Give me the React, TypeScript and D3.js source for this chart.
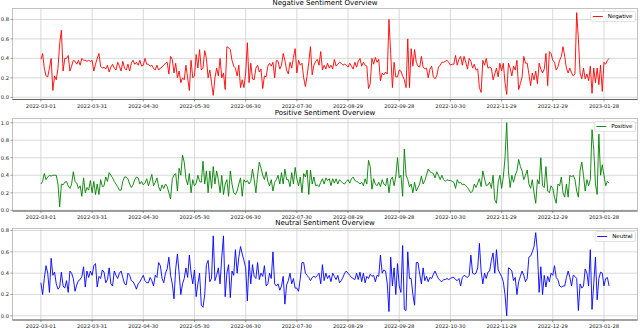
import * as d3 from 'd3';

// tick labels every 30 observations
const tickLabels = [
  '2022-03-01', '2022-03-31', '2022-04-30', '2022-05-30', '2022-06-30', '2022-07-30',
  '2022-08-29', '2022-09-28', '2022-10-30', '2022-11-29', '2022-12-29', '2023-01-28'
];
const tickStep = 30;

const negative = [
  0.39, 0.45, 0.30, 0.22, 0.21, 0.30, 0.40, 0.07, 0.22, 0.18,
  0.30, 0.55, 0.69, 0.27, 0.40, 0.40, 0.43, 0.27, 0.32, 0.38,
  0.37, 0.34, 0.38, 0.33, 0.40, 0.38, 0.38, 0.37, 0.38, 0.37,
  0.38, 0.27, 0.34, 0.40, 0.45, 0.32, 0.30, 0.31, 0.29, 0.33,
  0.26, 0.31, 0.34, 0.30, 0.28, 0.36, 0.32, 0.27, 0.37, 0.30,
  0.28, 0.34, 0.27, 0.35, 0.38, 0.34, 0.36, 0.33, 0.38, 0.32,
  0.33, 0.40, 0.34, 0.34, 0.32, 0.33, 0.30, 0.28, 0.33, 0.28,
  0.30, 0.31, 0.33, 0.35, 0.36, 0.24, 0.42, 0.39, 0.25, 0.35,
  0.20, 0.27, 0.15, 0.20, 0.18, 0.33, 0.20, 0.07, 0.38, 0.20,
  0.22, 0.44, 0.30, 0.49, 0.28, 0.30, 0.48, 0.40, 0.20, 0.28,
  0.15, 0.02, 0.20, 0.30, 0.22, 0.40, 0.20, 0.25, 0.08, 0.52,
  0.51, 0.49, 0.38, 0.32, 0.30, 0.22, 0.33, 0.10, 0.18, 0.10,
  0.25, 0.56, 0.15, 0.35, 0.19, 0.18, 0.30, 0.33, 0.26, 0.29,
  0.09, 0.22, 0.21, 0.32, 0.35, 0.32, 0.36, 0.20, 0.38, 0.37,
  0.29, 0.33, 0.45, 0.38, 0.28, 0.24, 0.36, 0.30, 0.41, 0.50,
  0.25, 0.38, 0.33, 0.35, 0.20, 0.11, 0.22, 0.36, 0.52, 0.23,
  0.33, 0.37, 0.39, 0.33,
  0.47, 0.28, 0.33, 0.29, 0.35, 0.30, 0.33, 0.29, 0.39, 0.32,
  0.34, 0.36, 0.35, 0.33, 0.34, 0.33, 0.31, 0.35, 0.32,
  0.29, 0.36, 0.31, 0.37, 0.40, 0.32, 0.36, 0.33, 0.32, 0.09,
  0.14, 0.40, 0.34, 0.41, 0.36, 0.39, 0.17, 0.25, 0.23, 0.26,
  0.24, 0.80, 0.45, 0.10, 0.36, 0.21, 0.21, 0.28, 0.27,
  0.22, 0.18, 0.10, 0.60, 0.10, 0.50, 0.32, 0.49, 0.36, 0.32,
  0.31, 0.42, 0.31, 0.29, 0.30, 0.20, 0.29, 0.32, 0.21, 0.19,
  0.22, 0.31, 0.33, 0.36, 0.36, 0.37, 0.38, 0.36, 0.33, 0.34,
  0.34, 0.43, 0.33, 0.39, 0.42, 0.33, 0.42, 0.36, 0.29,
  0.40, 0.37, 0.30, 0.34, 0.28, 0.29, 0.10, 0.05, 0.38, 0.33,
  0.40, 0.30, 0.31, 0.30, 0.18, 0.24, 0.30, 0.21, 0.35, 0.27,
  0.35, 0.15, 0.03, 0.35, 0.30, 0.22, 0.32, 0.28, 0.38,
  0.08, 0.14, 0.21, 0.42, 0.35, 0.35, 0.24, 0.12, 0.25, 0.18,
  0.27, 0.14, 0.35, 0.29, 0.25, 0.29, 0.45, 0.12, 0.47, 0.45,
  0.38, 0.36, 0.28, 0.31, 0.38, 0.42, 0.52, 0.42, 0.30,
  0.25, 0.30, 0.25, 0.22, 0.24, 0.87, 0.60, 0.25, 0.19, 0.30,
  0.19, 0.24, 0.17, 0.32, 0.04, 0.30, 0.15, 0.30, 0.13, 0.33,
  0.06, 0.36, 0.34, 0.38, 0.40
];

const positive = [
  0.30, 0.33, 0.42, 0.35, 0.38, 0.40, 0.39, 0.40, 0.40, 0.40,
  0.30, 0.04, 0.30, 0.29, 0.32, 0.33, 0.28, 0.25, 0.30,
  0.44, 0.33, 0.31, 0.25, 0.28, 0.16, 0.37, 0.20, 0.26, 0.23,
  0.34, 0.20, 0.33, 0.18, 0.30, 0.18, 0.35, 0.27, 0.28, 0.38,
  0.33, 0.43, 0.40, 0.37, 0.33, 0.30, 0.27, 0.23, 0.23, 0.33,
  0.38, 0.38, 0.36, 0.30, 0.26, 0.29, 0.35, 0.38, 0.37, 0.30,
  0.33, 0.29, 0.31, 0.36, 0.28, 0.34, 0.41, 0.28, 0.32,
  0.37, 0.27, 0.22, 0.29, 0.25, 0.30, 0.27, 0.20, 0.13, 0.36,
  0.40, 0.42, 0.22, 0.48, 0.40, 0.63, 0.55, 0.36, 0.29, 0.42,
  0.20, 0.35, 0.28, 0.31, 0.40, 0.33, 0.32, 0.56, 0.30, 0.45,
  0.20, 0.45, 0.25, 0.50, 0.30, 0.45, 0.35, 0.20, 0.40,
  0.18, 0.30, 0.35, 0.16, 0.45, 0.30, 0.20, 0.18, 0.22, 0.30,
  0.37, 0.16, 0.35, 0.32, 0.34, 0.30, 0.33, 0.47, 0.35, 0.20,
  0.40, 0.55, 0.48, 0.40, 0.35, 0.44, 0.33, 0.28, 0.35, 0.22,
  0.32, 0.35, 0.40, 0.30, 0.43, 0.30, 0.47, 0.35, 0.35,
  0.27, 0.43, 0.30, 0.49, 0.36, 0.28, 0.38, 0.20, 0.42, 0.38,
  0.46, 0.18, 0.46, 0.30, 0.38, 0.28, 0.29, 0.27,
  0.32, 0.36, 0.30, 0.37, 0.34, 0.36, 0.28, 0.36, 0.31, 0.36,
  0.30, 0.35, 0.33, 0.31, 0.30, 0.33, 0.35, 0.31, 0.36,
  0.38, 0.34, 0.33, 0.32, 0.30, 0.32, 0.28, 0.36, 0.30, 0.57,
  0.50, 0.24, 0.36, 0.30, 0.28, 0.32, 0.27, 0.35, 0.30, 0.28,
  0.37, 0.20, 0.35, 0.38, 0.28, 0.39, 0.60, 0.37, 0.40,
  0.16, 0.70, 0.40, 0.35, 0.27, 0.30, 0.20, 0.32, 0.22, 0.26,
  0.30, 0.39, 0.30, 0.34, 0.40, 0.47, 0.44, 0.43, 0.42, 0.37,
  0.44, 0.40, 0.35, 0.40, 0.35, 0.33, 0.35, 0.34, 0.34, 0.33,
  0.32, 0.25, 0.35, 0.31, 0.32, 0.29, 0.30, 0.28, 0.26,
  0.23, 0.20, 0.22, 0.30, 0.26, 0.31, 0.36, 0.27, 0.45, 0.36,
  0.28, 0.29, 0.32, 0.25, 0.40, 0.12, 0.08, 0.32, 0.40, 0.25,
  0.38, 0.60, 1.00, 0.45, 0.26, 0.40, 0.32, 0.40, 0.45,
  0.58, 0.50, 0.45, 0.35, 0.40, 0.46, 0.30, 0.25, 0.35, 0.20,
  0.08, 0.35, 0.30, 0.60, 0.28, 0.26, 0.50, 0.22, 0.20, 0.28,
  0.25, 0.15, 0.08, 0.30, 0.28, 0.38, 0.20, 0.15, 0.30,
  0.15, 0.40, 0.38, 0.40, 0.35, 0.22, 0.15, 0.45, 0.55, 0.40,
  0.22, 0.35, 0.28, 0.35, 0.92, 0.70, 0.30, 0.18, 0.87, 0.40,
  0.52, 0.40, 0.28, 0.33, 0.31
];

const neutral = [
  0.31, 0.20, 0.35, 0.47, 0.40, 0.22, 0.54, 0.38, 0.41, 0.30,
  0.25, 0.27, 0.41, 0.28, 0.26, 0.33, 0.22, 0.42, 0.40, 0.35,
  0.23, 0.29, 0.33, 0.34, 0.37, 0.46, 0.27, 0.42, 0.36,
  0.42, 0.38, 0.47, 0.49, 0.27, 0.37, 0.35, 0.43, 0.41, 0.31,
  0.34, 0.45, 0.30, 0.28, 0.42, 0.38, 0.35, 0.40, 0.42, 0.36,
  0.30, 0.29, 0.40, 0.38, 0.33, 0.32, 0.29, 0.25, 0.30, 0.32,
  0.35, 0.38, 0.33, 0.31, 0.31, 0.36, 0.33, 0.28, 0.38,
  0.36, 0.50, 0.47, 0.35, 0.31, 0.40, 0.44, 0.55, 0.38, 0.30,
  0.16, 0.44, 0.58, 0.40, 0.20, 0.30, 0.35, 0.45, 0.36, 0.57,
  0.40, 0.30, 0.43, 0.18, 0.30, 0.40, 0.10, 0.08, 0.20, 0.48,
  0.52, 0.32, 0.35, 0.75, 0.33, 0.38, 0.45, 0.30, 0.55,
  0.75, 0.18, 0.40, 0.48, 0.17, 0.42, 0.38, 0.62, 0.40, 0.55,
  0.65, 0.58, 0.52, 0.45, 0.14, 0.52, 0.30, 0.48, 0.37, 0.35,
  0.50, 0.34, 0.40, 0.37, 0.47, 0.28, 0.30, 0.40, 0.35, 0.60,
  0.30, 0.28, 0.30, 0.24, 0.28, 0.37, 0.11, 0.29, 0.33, 0.40,
  0.30, 0.35, 0.26, 0.26, 0.23, 0.35, 0.50, 0.50, 0.40, 0.38,
  0.36, 0.33, 0.36, 0.37, 0.36, 0.38, 0.40,
  0.30, 0.48, 0.33, 0.40, 0.35, 0.38, 0.32, 0.40, 0.37, 0.34,
  0.38, 0.31, 0.33, 0.36, 0.40, 0.42, 0.40, 0.38, 0.36,
  0.35, 0.34, 0.40, 0.34, 0.41, 0.32, 0.40, 0.31, 0.37, 0.35,
  0.39, 0.37, 0.38, 0.32, 0.38, 0.37, 0.57, 0.40, 0.43, 0.42,
  0.30, 0.04, 0.55, 0.28, 0.45, 0.20, 0.49, 0.28, 0.22,
  0.66, 0.06, 0.05, 0.60, 0.35, 0.35, 0.20, 0.10, 0.50, 0.50,
  0.39, 0.30, 0.45, 0.33, 0.37, 0.32, 0.36, 0.35, 0.39, 0.42,
  0.38, 0.35, 0.33, 0.32, 0.34, 0.34, 0.35, 0.34, 0.35, 0.36,
  0.36, 0.34, 0.33, 0.35, 0.28, 0.36, 0.38, 0.37, 0.36,
  0.38, 0.57, 0.40, 0.39, 0.40, 0.45, 0.68, 0.42, 0.30, 0.40,
  0.35, 0.41, 0.42, 0.52, 0.59, 0.40, 0.62, 0.43, 0.40, 0.37,
  0.32, 0.20, 0.00, 0.45, 0.44, 0.42, 0.33, 0.36, 0.20,
  0.32, 0.37, 0.42, 0.38, 0.32, 0.35, 0.55, 0.56, 0.60, 0.65,
  0.78, 0.60, 0.22, 0.46, 0.20, 0.38, 0.27, 0.37, 0.32, 0.40,
  0.38, 0.47, 0.36, 0.34, 0.28, 0.27, 0.28, 0.28, 0.36,
  0.42, 0.36, 0.28, 0.38, 0.37, 0.35, 0.05, 0.30, 0.26, 0.28,
  0.44, 0.40, 0.28, 0.62, 0.06, 0.30, 0.55, 0.15, 0.35, 0.41,
  0.40, 0.28, 0.35, 0.36, 0.28
];

const CHART = {
  width: 640,
  height: 328,
  left: 12.5,
  right: 637.5,
  font: 'DejaVu Sans, sans-serif'
};

const panels = [
  { title: 'Negative Sentiment Overview', name: 'Negative', color: '#ff0000', values: negative, top: 8.5, bottom: 99.5 },
  { title: 'Positive Sentiment Overview', name: 'Positive', color: '#008000', values: positive, top: 118.5, bottom: 211 },
  { title: 'Neutral Sentiment Overview', name: 'Neutral', color: '#0000ff', values: neutral, top: 228.5, bottom: 320 }
];

const textWidth = (text, size) => {
  const ctx = document.createElement('canvas').getContext('2d');
  ctx.font = `${size}px DejaVu Sans`;
  return ctx.measureText(text).width;
};

// matplotlib-like 5% padding around the data
const padded = (lo, hi) => {
  const pad = (hi - lo) * 0.05;
  return [lo - pad, hi + pad];
};

function Panel({ p }) {
  const n = p.values.length;
  const x = d3.scaleLinear().domain(padded(0, n - 1)).range([CHART.left, CHART.right]);
  const [lo, hi] = d3.extent(p.values);
  const y = d3.scaleLinear().domain(padded(lo, hi)).range([p.bottom, p.top]);
  const yTicks = y.ticks(5);
  const xTicks = d3.range(0, n, tickStep).slice(0, tickLabels.length);
  const line = d3.line().x((d, i) => x(i)).y((d) => y(d));

  const legW = 2 + 10 + 5 + textWidth(p.name, 5.5) + 3;
  const legX = CHART.right - 2 - legW;
  const legY = p.top + 3;

  return (
    <g>
      <text x={(CHART.left + CHART.right) / 2} y={p.top - 3.5} textAnchor="middle" fontSize={7} fill="#000">
        {p.title}
      </text>

      {/* grid */}
      {yTicks.map((t) => (
        <line key={'gy' + t} x1={CHART.left} x2={CHART.right} y1={y(t)} y2={y(t)} stroke="#cfcfcf" strokeWidth={0.8} />
      ))}
      {xTicks.map((t) => (
        <line key={'gx' + t} x1={x(t)} x2={x(t)} y1={p.top} y2={p.bottom} stroke="#cfcfcf" strokeWidth={0.8} />
      ))}

      <path d={line(p.values)} fill="none" stroke={p.color} strokeWidth={0.9} strokeLinejoin="round" />

      {/* spines */}
      <rect x={CHART.left} y={p.top} width={CHART.right - CHART.left} height={p.bottom - p.top}
        fill="none" stroke="#b5b5b5" strokeWidth={0.8} />
      <line x1={CHART.left} x2={CHART.right} y1={p.bottom} y2={p.bottom} stroke="#555" strokeWidth={0.9} />

      {/* y axis */}
      {yTicks.map((t) => (
        <g key={'ty' + t}>
          <line x1={CHART.left - 2} x2={CHART.left} y1={y(t)} y2={y(t)} stroke="#555" strokeWidth={0.6} />
          <text x={CHART.left - 3.5} y={y(t)} dy="0.35em" textAnchor="end" fontSize={5.2} fill="#222">
            {d3.format('.1f')(t)}
          </text>
        </g>
      ))}

      {/* x axis */}
      {xTicks.map((t, i) => (
        <g key={'tx' + t}>
          <line x1={x(t)} x2={x(t)} y1={p.bottom} y2={p.bottom + 2} stroke="#555" strokeWidth={0.6} />
          <text x={x(t)} y={p.bottom + 8} textAnchor="middle" fontSize={5.2} fill="#222">
            {tickLabels[i]}
          </text>
        </g>
      ))}

      {/* legend */}
      <rect x={legX} y={legY} width={legW} height={10} rx={1.5} fill="#fff" fillOpacity={0.85} stroke="#d0d0d0" strokeWidth={0.6} />
      <line x1={legX + 2} x2={legX + 12} y1={legY + 5} y2={legY + 5} stroke={p.color} strokeWidth={0.9} />
      <text x={legX + 17} y={legY + 5} dy="0.35em" fontSize={5.5} fill="#000">{p.name}</text>
    </g>
  );
}

export default function App() {
  return (
    <svg width={CHART.width} height={CHART.height} fontFamily={CHART.font}
      style={{ position: 'absolute', left: 0, top: 0, background: '#fff' }}>
      {panels.map((p) => <Panel key={p.name} p={p} />)}
    </svg>
  );
}
